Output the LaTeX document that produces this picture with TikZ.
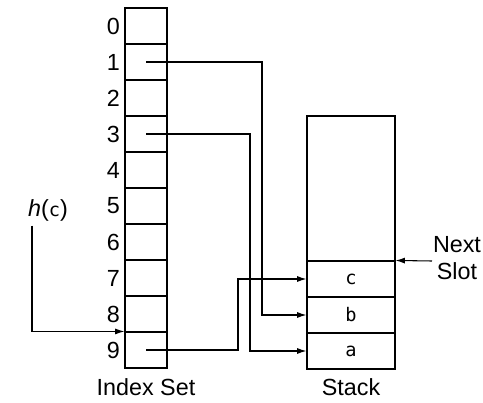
\documentclass[tikz,border=0pt]{standalone}
\usepackage{fontspec}
\setmainfont{Liberation Sans}
\setmonofont{DejaVu Sans Mono}
\usetikzlibrary{arrows.meta, positioning}

\begin{document}
\begin{tikzpicture}[
  x=0.75pt, y=-0.75pt,
  cell/.style={draw, line width=0.8pt, minimum width=31.5pt, minimum height=27pt, inner sep=0pt, font=\fontsize{14}{16}\ttfamily},
  lbl/.style={font=\fontsize{17.5}{20}\selectfont},
  ptr/.style={line width=0.8pt, -{Latex[length=7pt, width=4.5pt]}},
]
  \useasboundingbox (0,0) rectangle (483,403);

  % Index set
  \foreach \i in {0,...,9} {
    \node[cell] (idx\i) at (146,{26+36*\i}) {};
    \node[lbl, left=0pt of idx\i] {\i};
  }
  \node[lbl] (idxname) at (146,387) {Index Set};

  % Stack
  \node[cell, minimum height=108.75pt, minimum width=66pt] (stkfree) at (351,188.5) {};
  \node[cell, minimum width=66pt] (stkc) at (351,279) {c};
  \node[cell, minimum width=66pt] (stkb) at (351,315) {b};
  \node[cell, minimum width=66pt] (stka) at (351,351) {a};
  \node[lbl] (stkname) at (351,387) {Stack};

  % Next slot
  \node[lbl, align=center] (nslot) at (457,258) {Next\\Slot};
  \coordinate (nstail) at (432,261);
  \draw[ptr] (nstail) -- (stkc.north east);

  % Hash value
  \node[lbl] (hc) at (48,210) {\textit{h}(\texttt{\fontsize{14}{16}\selectfont c})};
  \draw[ptr] ([xshift=-12pt]hc.south) |- (idx9.north west);

  % Pointers
  \coordinate (bendb) at (262,315);
  \coordinate (benda) at (250,351);
  \coordinate (bendc) at (238,279);
  \draw[ptr] (idx1.center) -| (bendb) -- (stkb.west);
  \draw[ptr] (idx3.center) -| (benda) -- (stka.west);
  \draw[ptr] (idx9.center) -| (bendc) -- (stkc.west);
\end{tikzpicture}
\end{document}
